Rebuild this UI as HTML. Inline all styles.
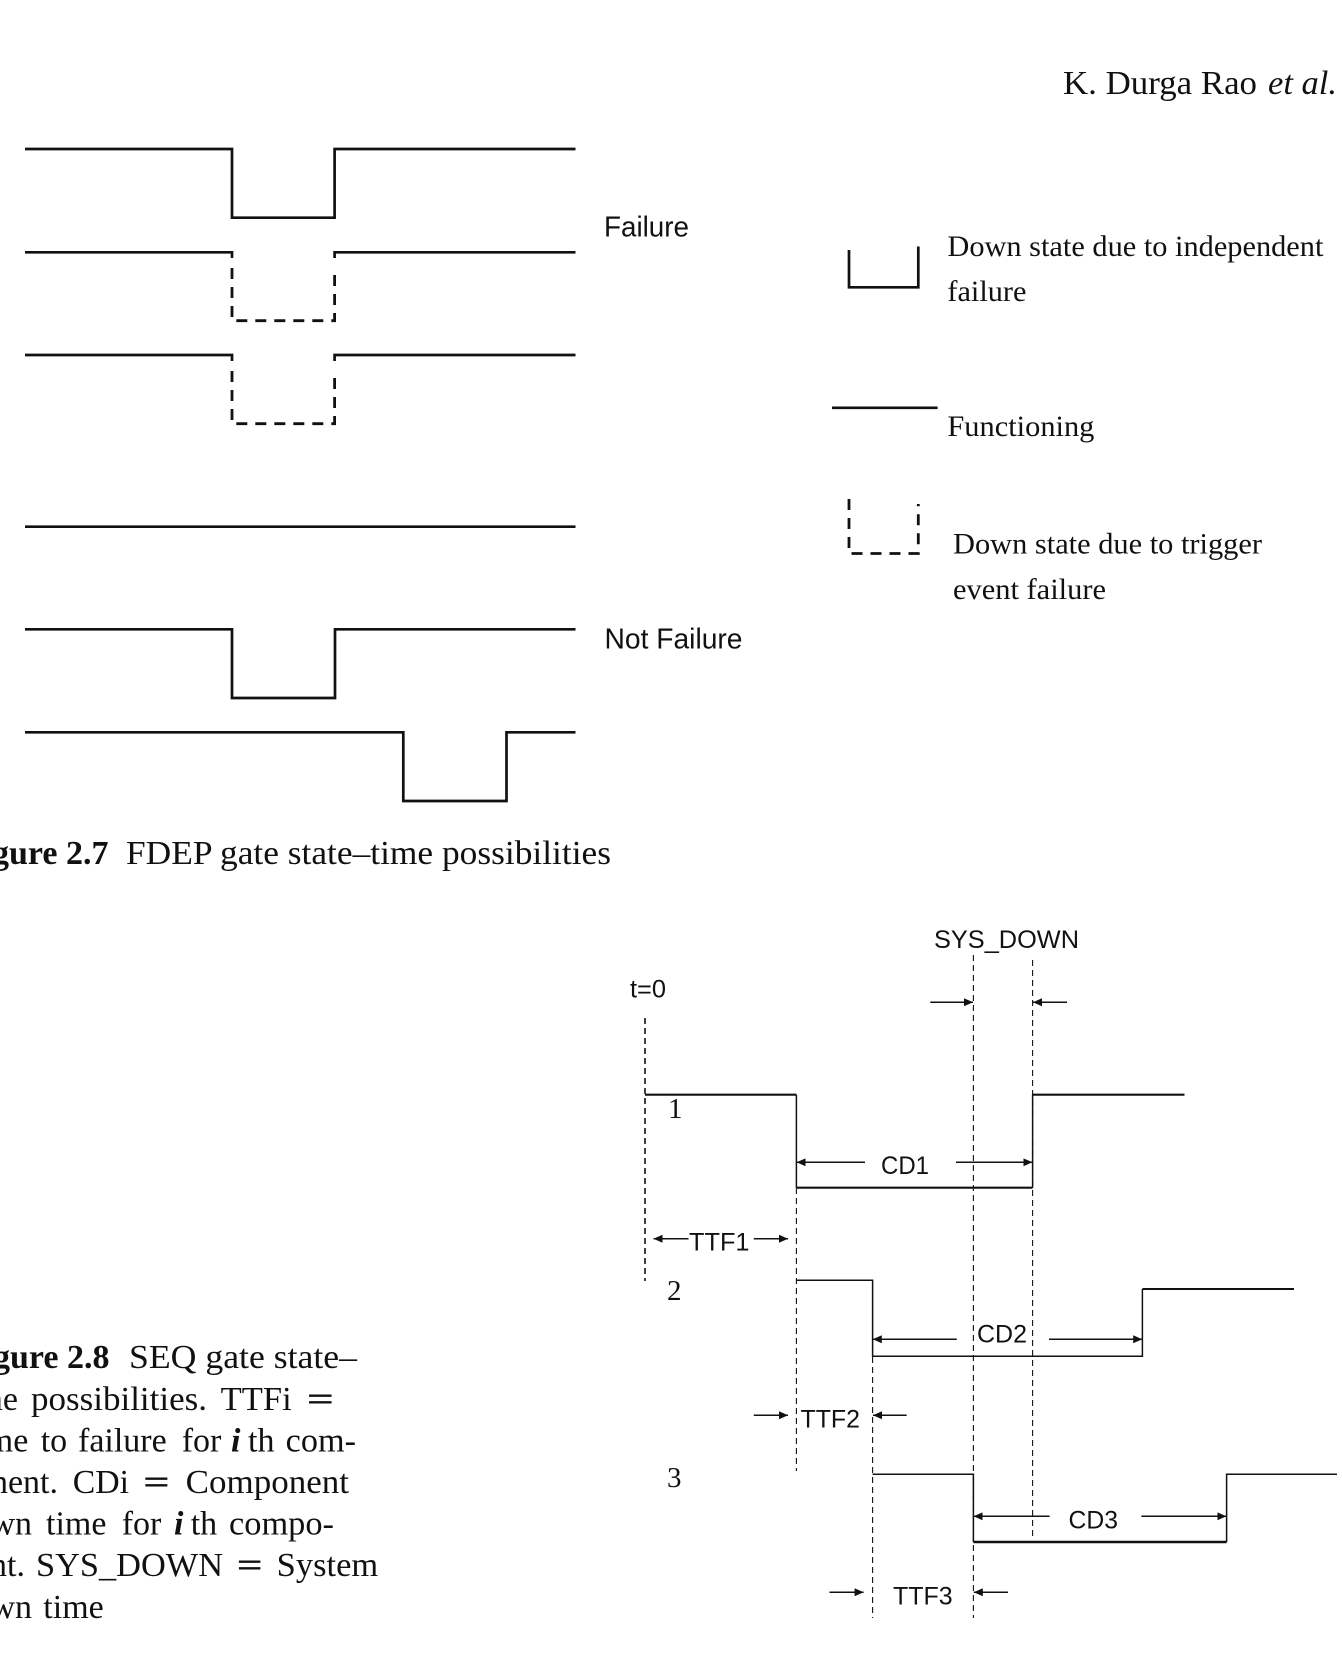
<!DOCTYPE html>
<html>
<head>
<meta charset="utf-8">
<style>
html,body{margin:0;padding:0;background:#fff;width:1342px;height:1659px;overflow:hidden}
svg{display:block}
.t{font-family:"Liberation Serif",serif;fill:#111}
.s{font-family:"Liberation Sans",sans-serif;fill:#111}
.b{font-weight:bold}
.i{font-style:italic}
.c{font-size:34px}
.l{font-size:30px}
.a{font-size:25px}
.n{font-size:29px}
.thick{fill:none;stroke:#111;stroke-width:2.7;stroke-linejoin:miter}
.dash{fill:none;stroke:#111;stroke-width:2.8;stroke-dasharray:11 8}
.thin{fill:none;stroke:#111;stroke-width:1.5}
.guide{fill:none;stroke:#111;stroke-width:1.1;stroke-dasharray:6 4}
.arr{fill:none;stroke:#111;stroke-width:1.5;marker-end:url(#ah)}
</style>
</head>
<body>
<svg width="1342" height="1659" viewBox="0 0 1342 1659" xmlns="http://www.w3.org/2000/svg">
<defs>
<marker id="ah" markerUnits="userSpaceOnUse" markerWidth="10" markerHeight="10" refX="9" refY="4.5" orient="auto">
<path d="M0,0.5 L9,4.5 L0,8.5 Z" fill="#111"/>
</marker>
</defs>
<rect width="1342" height="1659" fill="#fff"/>

<!-- header -->
<text class="t c" x="1063" y="94" textLength="194" lengthAdjust="spacingAndGlyphs">K. Durga Rao</text>
<text class="t c i" x="1268" y="94" textLength="69" lengthAdjust="spacingAndGlyphs">et al.</text>

<!-- Figure 2.7 waveforms -->
<path class="thick" d="M25,149H232V217.7H334.6V149H575.5"/>
<path class="thick" d="M25,252.3H232V258M334.6,258V252.3H575.5"/>
<path class="dash" d="M232,268V320.7H334.6V268"/>
<path class="thick" d="M25,355H232V361M334.6,361V355H575.5"/>
<path class="dash" d="M232,371V423.7H334.6V371"/>
<path class="thick" d="M25,526.7H575.5"/>
<path class="thick" d="M25,629.3H232V698H335V629.3H575.5"/>
<path class="thick" d="M25,732.3H403.3V801H506.5V732.3H575.5"/>

<text class="s" x="604" y="236.5" font-size="29" textLength="85" lengthAdjust="spacingAndGlyphs">Failure</text>
<text class="s" x="604.5" y="648.5" font-size="29" textLength="138" lengthAdjust="spacingAndGlyphs">Not Failure</text>

<!-- legend -->
<path class="thick" d="M849,250V287.3H918.3V246.5"/>
<path class="thick" d="M832,407.8H937.6"/>
<path class="dash" d="M849,499V553.5H918.3V504"/>
<text class="t l" x="947.4" y="256" textLength="376" lengthAdjust="spacingAndGlyphs">Down state due to independent</text>
<text class="t l" x="947.4" y="301" textLength="79" lengthAdjust="spacingAndGlyphs">failure</text>
<text class="t l" x="947.4" y="436" textLength="147" lengthAdjust="spacingAndGlyphs">Functioning</text>
<text class="t l" x="953" y="553.5" textLength="309" lengthAdjust="spacingAndGlyphs">Down state due to trigger</text>
<text class="t l" x="953" y="599" textLength="153" lengthAdjust="spacingAndGlyphs">event failure</text>

<!-- caption 2.7 -->
<text class="t c b" x="108.5" y="864" text-anchor="end">Figure 2.7</text>
<text class="t c" x="126" y="864" textLength="485" lengthAdjust="spacingAndGlyphs">FDEP gate state–time possibilities</text>

<!-- caption 2.8 -->
<text class="t c b" x="109.5" y="1368" text-anchor="end">Figure 2.8</text>
<text class="t c" x="129" y="1368" textLength="228" lengthAdjust="spacingAndGlyphs">SEQ gate state–</text>

<text class="t c" x="18" y="1410" text-anchor="end">time</text>
<text class="t c" x="31" y="1410" textLength="176" lengthAdjust="spacingAndGlyphs">possibilities.</text>
<text class="t c" x="220.7" y="1410" textLength="71" lengthAdjust="spacingAndGlyphs">TTFi</text>
<text class="t c b" x="306.7" y="1410" textLength="27.6" lengthAdjust="spacingAndGlyphs">=</text>

<text class="t c" x="28.3" y="1451.7" text-anchor="end">time</text>
<text class="t c" x="40.7" y="1451.7">to</text>
<text class="t c" x="78" y="1451.7">failure</text>
<text class="t c" x="181.7" y="1451.7">for</text>
<text class="t c i b" x="231" y="1451.7">i</text>
<text class="t c" x="248" y="1451.7">th</text>
<text class="t c" x="285.7" y="1451.7" textLength="70.3" lengthAdjust="spacingAndGlyphs">com-</text>

<text class="t c" x="58" y="1493" text-anchor="end">ponent.</text>
<text class="t c" x="72.7" y="1493" textLength="56.3" lengthAdjust="spacingAndGlyphs">CDi</text>
<text class="t c b" x="143" y="1493" textLength="27" lengthAdjust="spacingAndGlyphs">=</text>
<text class="t c" x="185.7" y="1493" textLength="163.3" lengthAdjust="spacingAndGlyphs">Component</text>

<text class="t c" x="32" y="1534.5" text-anchor="end">down</text>
<text class="t c" x="46" y="1534.5">time</text>
<text class="t c" x="121.7" y="1534.5">for</text>
<text class="t c i b" x="174" y="1534.5">i</text>
<text class="t c" x="190.7" y="1534.5">th</text>
<text class="t c" x="229" y="1534.5" textLength="105" lengthAdjust="spacingAndGlyphs">compo-</text>

<text class="t c" x="25" y="1576" text-anchor="end">nent.</text>
<text class="t c" x="36" y="1576" textLength="187" lengthAdjust="spacingAndGlyphs">SYS_DOWN</text>
<text class="t c b" x="236.7" y="1576" textLength="26.3" lengthAdjust="spacingAndGlyphs">=</text>
<text class="t c" x="276.7" y="1576" textLength="101.5" lengthAdjust="spacingAndGlyphs">System</text>

<text class="t c" x="32" y="1618" text-anchor="end">down</text>
<text class="t c" x="43.3" y="1618">time</text>

<!-- Figure 2.8 diagram -->
<text class="s a" x="630" y="997.3" textLength="36" lengthAdjust="spacingAndGlyphs">t=0</text>
<text class="s a" x="934" y="948" textLength="145" lengthAdjust="spacingAndGlyphs">SYS_DOWN</text>

<path class="guide" d="M645,1018V1281" style="stroke-width:1.6"/>
<path class="guide" d="M796.4,1188V1471"/>
<path class="guide" d="M973.4,955V1618"/>
<path class="guide" d="M1032.6,960V1538"/>
<path class="guide" d="M872.6,1357V1618"/>

<path class="thin" d="M645,1094.7H796.4" style="stroke-width:2.1"/>
<path class="thin" d="M796.4,1094.7V1187.7"/>
<path class="thin" d="M796.4,1187.7H1032.6" style="stroke-width:2.1"/>
<path class="thin" d="M1032.6,1187.7V1094.7"/>
<path class="thin" d="M1032.6,1094.7H1184.5" style="stroke-width:2.1"/>

<path class="thin" d="M796.4,1280.3H872.6V1356.3H1142.4V1289"/>
<path class="thin" d="M1142.4,1289H1294" style="stroke-width:2.1"/>

<path class="thin" d="M872.6,1474.3H973.4V1542"/>
<path class="thin" d="M973.4,1542H1226.6" style="stroke-width:2.4"/>
<path class="thin" d="M1226.6,1542V1474.3H1337"/>

<text class="t n" x="668" y="1118">1</text>
<text class="t n" x="667" y="1300">2</text>
<text class="t n" x="667" y="1487">3</text>

<path class="arr" d="M865,1162.3H796.6"/>
<path class="arr" d="M956,1162.3H1032.4"/>
<text class="s a" x="881" y="1174" textLength="48" lengthAdjust="spacingAndGlyphs">CD1</text>

<path class="arr" d="M688.5,1238.7H653.5"/>
<path class="arr" d="M753.8,1238.7H788"/>
<text class="s a" x="689" y="1250.7" textLength="60.5" lengthAdjust="spacingAndGlyphs">TTF1</text>

<path class="arr" d="M930.3,1002.3H973"/>
<path class="arr" d="M1067,1002.3H1033"/>

<path class="arr" d="M956.8,1339.3H872.8"/>
<path class="arr" d="M1049,1339.3H1142.2"/>
<text class="s a" x="977" y="1342.7" textLength="50" lengthAdjust="spacingAndGlyphs">CD2</text>

<path class="arr" d="M753.8,1415.3H788"/>
<path class="arr" d="M906.7,1415.3H873"/>
<text class="s a" x="800.5" y="1427.7" textLength="59.5" lengthAdjust="spacingAndGlyphs">TTF2</text>

<path class="arr" d="M1049.6,1516.3H973.6"/>
<path class="arr" d="M1141.4,1516.3H1226.4"/>
<text class="s a" x="1068.5" y="1528.3" textLength="49.5" lengthAdjust="spacingAndGlyphs">CD3</text>

<path class="arr" d="M829.5,1592.3H863.6"/>
<path class="arr" d="M1008,1592.3H973.8"/>
<text class="s a" x="893" y="1604.3" textLength="59.6" lengthAdjust="spacingAndGlyphs">TTF3</text>
</svg>
</body>
</html>
